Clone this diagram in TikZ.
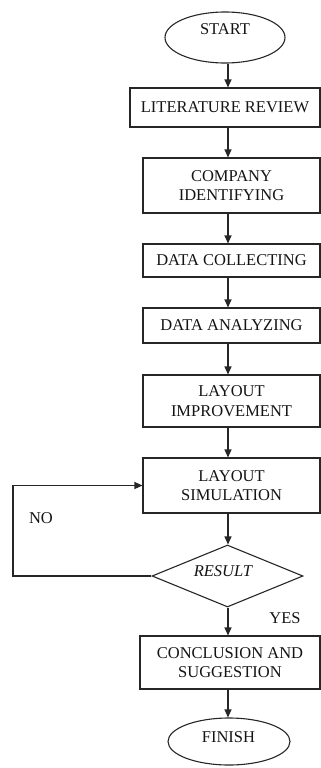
\documentclass[tikz,border=0pt]{standalone}
\usepackage{fontspec}
\setmainfont{Liberation Serif}
\usetikzlibrary{arrows.meta,shapes.geometric}
\definecolor{ln}{HTML}{262626}
\definecolor{tx}{HTML}{141414}
\tikzset{
  box/.style={draw=ln, line width=1.1pt, rectangle, inner sep=0pt, align=center, text=tx},
  term/.style={draw=ln, line width=1.1pt, ellipse, inner sep=0pt},
  dec/.style={draw=ln, line width=1.1pt, diamond, inner sep=0pt},
  lbl/.style={inner sep=0pt, text=tx},
  arr/.style={draw=ln, line width=1.1pt, -{Triangle[length=8pt,width=7pt]}},
}
\begin{document}
\begin{tikzpicture}[x=1pt,y=-1pt,font=\fontsize{16.5}{19.5}\selectfont]
\useasboundingbox (0,0) rectangle (321,768);
\coordinate (sp) at (228,0);
\node[term, minimum width=120pt, minimum height=51pt] (start) at (225,37.5) {};
\node[lbl] (starttxt) at (225,29) {START};
\node[box, minimum width=190pt, minimum height=39pt] (lit) at (225,107.5) {LITERATURE REVIEW};
\node[box, minimum width=177pt, minimum height=55pt] (comp) at (231.5,185.5) {COMPANY\\IDENTIFYING};
\node[box, minimum width=177pt, minimum height=33pt] (dcoll) at (231.5,260.5) {DATA COLLECTING};
\node[box, minimum width=177pt, minimum height=35pt] (dana) at (231.5,325.5) {DATA ANALYZING};
\node[box, minimum width=177pt, minimum height=52pt] (limp) at (231.5,401) {LAYOUT\\IMPROVEMENT};
\node[box, minimum width=177pt, minimum height=55pt] (lsim) at (231.5,485.5) {LAYOUT\\SIMULATION};
\node[dec, minimum width=151pt, minimum height=62pt] (res) at (227.5,576) {};
\node[lbl, font=\fontsize{16.5}{19.5}\selectfont\itshape] (restxt) at (223,571) {RESULT};
\node[box, minimum width=180pt, minimum height=53pt] (concl) at (230,662.5) {CONCLUSION AND\\SUGGESTION};
\node[term, minimum width=122pt, minimum height=47pt] (fin) at (229,741.5) {};
\node[lbl] (fintxt) at (228.5,737) {FINISH};
\node[lbl] (no) at (41,518) {NO};
\node[lbl] (yes) at (285,618) {YES};
\coordinate (fb) at (13,576);
\draw[arr] (start.south -| sp) -- (lit.north -| sp);
\draw[arr] (lit.south -| sp) -- (comp.north -| sp);
\draw[arr] (comp.south -| sp) -- (dcoll.north -| sp);
\draw[arr] (dcoll.south -| sp) -- (dana.north -| sp);
\draw[arr] (dana.south -| sp) -- (limp.north -| sp);
\draw[arr] (limp.south -| sp) -- (lsim.north -| sp);
\draw[arr] (lsim.south -| sp) -- (res.north -| sp);
\draw[arr] (res.south -| sp) -- (concl.north -| sp);
\draw[arr] (concl.south -| sp) -- (fin.north -| sp);
\draw[arr] (res.west) -- (fb) |- (lsim.west);
\end{tikzpicture}
\end{document}
